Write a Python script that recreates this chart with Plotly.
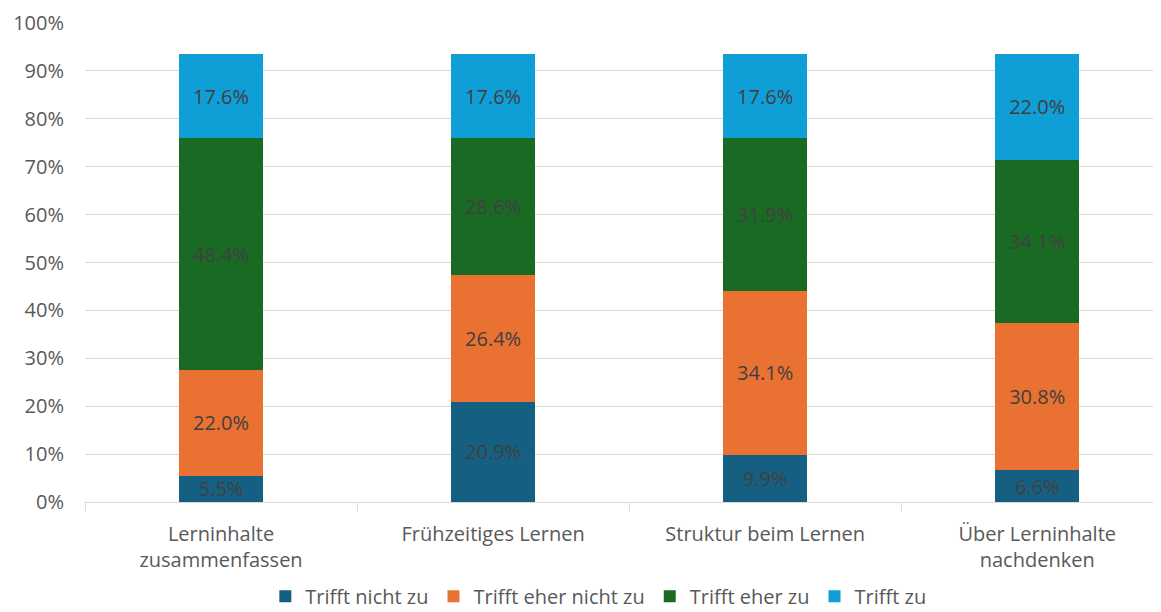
import plotly.graph_objects as go

categories = ["Lerninhalte<br>zusammenfassen", "Frühzeitiges Lernen", "Struktur beim Lernen", "Über Lerninhalte<br>nachdenken"]
series_names = ["Trifft nicht zu", "Trifft eher nicht zu", "Trifft eher zu", "Trifft zu"]
trifft_nicht_zu = [5.5, 20.9, 9.9, 6.6]
trifft_eher_nicht_zu = [22.0, 26.4, 34.1, 30.8]
trifft_eher_zu = [48.4, 28.6, 31.9, 34.1]
trifft_zu = [17.6, 17.6, 17.6, 22.0]
colors = ["#156082", "#E97132", "#196B24", "#0F9ED5"]
y_ticks = [0, 10, 20, 30, 40, 50, 60, 70, 80, 90, 100]

font_family = "'Open Sans', 'Noto Sans', sans-serif"

fig = go.Figure()
for name, vals, col in zip(series_names,
                           [trifft_nicht_zu, trifft_eher_nicht_zu, trifft_eher_zu, trifft_zu],
                           colors):
    fig.add_trace(go.Bar(
        x=categories, y=vals, name=name,
        marker=dict(color=col, line=dict(width=0)),
        width=0.31,
        text=[f"{v:.1f}%" for v in vals],
        textposition="inside", insidetextanchor="middle",
        textangle=0, constraintext="none",
        textfont=dict(size=20, color="#404040", family=font_family),
        hoverinfo="skip",
    ))

fig.update_layout(
    barmode="stack",
    width=1153, height=604,
    margin=dict(l=77, r=0, t=15, b=110, autoexpand=False),
    paper_bgcolor="white", plot_bgcolor="white",
    font=dict(family=font_family, color="#595959", size=20),
    uniformtext=dict(mode=False),
    showlegend=True,
    legend=dict(orientation="h", xref="container", yref="container",
                x=0.512, xanchor="center", y=0.026, yanchor="middle",
                font=dict(size=20, color="#595959"), traceorder="normal",
                itemwidth=30, tracegroupgap=0),
    xaxis=dict(
        range=[-0.5, 3.455],
        showgrid=False,
        showline=True, linecolor="#d9d9d9", linewidth=1,
        ticks="outside", tickson="boundaries", ticklen=8, tickcolor="#d9d9d9",
        ticklabelstandoff=14,
        tickfont=dict(size=20, color="#595959"),
    ),
    yaxis=dict(
        range=[0, 100],
        tickvals=y_ticks,
        ticktext=[f"{t}%" for t in y_ticks],
        showgrid=True, gridcolor="#d9d9d9", gridwidth=1,
        zeroline=False, showline=False,
        ticks="", ticklabelstandoff=20,
        tickfont=dict(size=20, color="#595959"),
    ),
)

fig.write_html("out.html")
